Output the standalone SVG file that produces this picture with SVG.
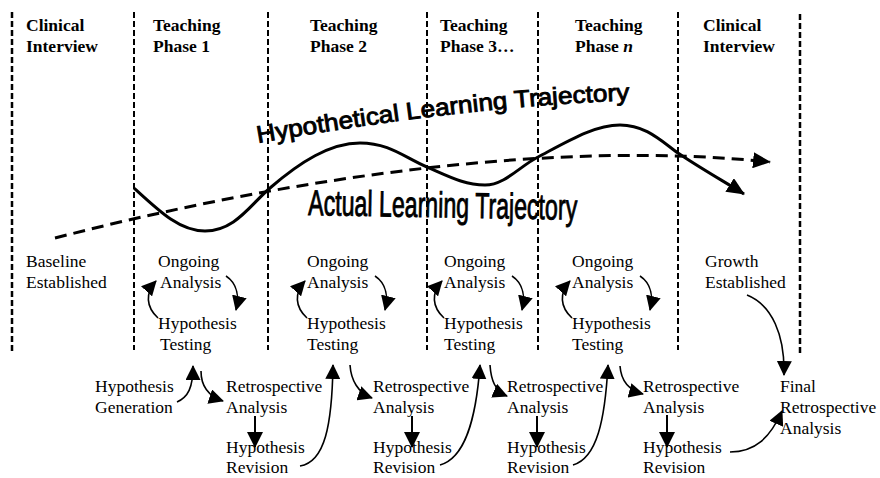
<svg xmlns="http://www.w3.org/2000/svg" width="880" height="478" viewBox="0 0 880 478">
<style>
.hd{font-family:"Liberation Serif","Times New Roman",serif;font-weight:bold;font-size:17.5px;fill:#000}
.tx{font-family:"Liberation Serif","Times New Roman",serif;font-size:17.5px;fill:#000}
.tt{font-family:"Liberation Sans",Arial,sans-serif;fill:#000;stroke:#000;stroke-width:0.9}
.vl{stroke:#000;stroke-width:2;stroke-dasharray:6 3;fill:none}
.c{stroke:#000;stroke-width:1.6;fill:none;marker-end:url(#ah)}
.cb{stroke:#000;stroke-width:2;fill:none;marker-end:url(#ahB)}
</style>
<defs>
<marker id="ah" markerUnits="userSpaceOnUse" viewBox="0 0 15 15" refX="14" refY="7.5" markerWidth="15" markerHeight="15" orient="auto">
<path d="M0,0 L15,7.5 L0,15 z" fill="#000"/>
</marker>
<marker id="ahB" markerUnits="userSpaceOnUse" viewBox="0 0 16 16" refX="15" refY="8" markerWidth="16" markerHeight="16" orient="auto">
<path d="M0,0 L16,8 L0,16 z" fill="#000"/>
</marker>
<marker id="ahL" markerUnits="userSpaceOnUse" viewBox="0 0 18 16" refX="17" refY="8" markerWidth="18" markerHeight="16" orient="auto">
<path d="M0,0 L18,8 L0,16 z" fill="#000"/>
</marker>
<path id="hltPath" d="M258,143 Q473,105 640,100"/>
</defs>
<rect width="880" height="478" fill="#fff"/>

<g id="dividers">
<line class="vl" x1="12" y1="12" x2="12" y2="351" style="stroke-width:2.5"/>
<line class="vl" x1="134" y1="12" x2="134" y2="350"/>
<line class="vl" x1="268" y1="12" x2="268" y2="350"/>
<line class="vl" x1="427" y1="12" x2="427" y2="350"/>
<line class="vl" x1="538" y1="12" x2="538" y2="350"/>
<line class="vl" x1="678" y1="12" x2="678" y2="350"/>
<line class="vl" x1="800" y1="14" x2="800" y2="354" style="stroke-width:2.5"/>
</g>

<g id="headers">
<g id="h-clinical1"><text class="hd" x="26" y="31">Clinical</text><text class="hd" x="26" y="52">Interview</text></g>
<g id="h-phase1"><text class="hd" x="153" y="31">Teaching</text><text class="hd" x="153" y="52">Phase 1</text></g>
<g id="h-phase2"><text class="hd" x="310" y="31">Teaching</text><text class="hd" x="310" y="52">Phase 2</text></g>
<g id="h-phase3"><text class="hd" x="440" y="31">Teaching</text><text class="hd" x="440" y="52">Phase 3…</text></g>
<g id="h-phasen"><text class="hd" x="575" y="31">Teaching</text><text class="hd" x="575" y="52">Phase <tspan font-style="italic">n</tspan></text></g>
<g id="h-clinical2"><text class="hd" x="703" y="31">Clinical</text><text class="hd" x="703" y="52">Interview</text></g>
</g>

<g id="trajectories">
<path d="M55,238 C300,175 560,140 770,162" fill="none" stroke="#000" stroke-width="3" stroke-dasharray="12 7" marker-end="url(#ahL)"/>
<path d="M134,188 C160,212 180,231 205,231 C235,231 250,205 270,188 C300,162 330,143 360,143 C390,143 405,158 427,167 C450,177 465,185 485,185 C505,185 520,166 538,157 C570,140 595,125 620,125 C645,125 660,140 678,153 C700,168 725,182 744,194" fill="none" stroke="#000" stroke-width="3" marker-end="url(#ahL)"/>
</g>

<g id="hlt-label"><text class="tt" font-size="24"><textPath href="#hltPath" textLength="374" lengthAdjust="spacingAndGlyphs">Hypothetical Learning Trajectory</textPath></text></g>
<g id="alt-label"><text class="tt" x="308" y="215" font-size="36" textLength="269" lengthAdjust="spacingAndGlyphs" transform="rotate(1,308,215)">Actual Learning Trajectory</text></g>

<g id="baseline"><text class="tx" x="26" y="267">Baseline</text><text class="tx" x="26" y="288">Established</text></g>
<g id="growth"><text class="tx" x="705" y="267">Growth</text><text class="tx" x="705" y="288">Established</text></g>

<g id="cycle1">
<text class="tx" x="158" y="267">Ongoing</text><text class="tx" x="160" y="288">Analysis</text>
<text class="tx" x="158" y="329">Hypothesis</text><text class="tx" x="160" y="350">Testing</text>
</g>
<g id="cycle2">
<text class="tx" x="307" y="267">Ongoing</text><text class="tx" x="307" y="288">Analysis</text>
<text class="tx" x="307" y="329">Hypothesis</text><text class="tx" x="307" y="350">Testing</text>
</g>
<g id="cycle3">
<text class="tx" x="444" y="267">Ongoing</text><text class="tx" x="444" y="288">Analysis</text>
<text class="tx" x="444" y="329">Hypothesis</text><text class="tx" x="444" y="350">Testing</text>
</g>
<g id="cyclen">
<text class="tx" x="572" y="267">Ongoing</text><text class="tx" x="572" y="288">Analysis</text>
<text class="tx" x="572" y="329">Hypothesis</text><text class="tx" x="572" y="350">Testing</text>
</g>

<g id="generation"><text class="tx" x="95" y="392">Hypothesis</text><text class="tx" x="95" y="413">Generation</text></g>

<g id="retro1"><text class="tx" x="226" y="392">Retrospective</text><text class="tx" x="226" y="413">Analysis</text></g>
<g id="revision1"><text class="tx" x="226" y="453">Hypothesis</text><text class="tx" x="226" y="473">Revision</text></g>
<g id="retro2"><text class="tx" x="373" y="392">Retrospective</text><text class="tx" x="373" y="413">Analysis</text></g>
<g id="revision2"><text class="tx" x="373" y="453">Hypothesis</text><text class="tx" x="373" y="473">Revision</text></g>
<g id="retro3"><text class="tx" x="507" y="392">Retrospective</text><text class="tx" x="507" y="413">Analysis</text></g>
<g id="revision3"><text class="tx" x="507" y="453">Hypothesis</text><text class="tx" x="507" y="473">Revision</text></g>
<g id="retron"><text class="tx" x="643" y="392">Retrospective</text><text class="tx" x="643" y="413">Analysis</text></g>
<g id="revisionn"><text class="tx" x="643" y="453">Hypothesis</text><text class="tx" x="643" y="473">Revision</text></g>
<g id="final"><text class="tx" x="780" y="392">Final</text><text class="tx" x="780" y="413">Retrospective</text><text class="tx" x="780" y="434">Analysis</text></g>

<g id="connectors">
<g id="loops">
<g transform="translate(0,0)">
<path class="c" d="M226,276 C238,284 239,298 236,310"/>
<path class="c" d="M158,318 C146,307 145,293 156,281"/>
</g>
<g transform="translate(149,0)">
<path class="c" d="M226,276 C238,284 239,298 236,310"/>
<path class="c" d="M158,318 C146,307 145,293 156,281"/>
</g>
<g transform="translate(286,0)">
<path class="c" d="M226,276 C238,284 239,298 236,310"/>
<path class="c" d="M158,318 C146,307 145,293 156,281"/>
</g>
<g transform="translate(414,0)">
<path class="c" d="M226,276 C238,284 239,298 236,310"/>
<path class="c" d="M158,318 C146,307 145,293 156,281"/>
</g>
</g>
<path class="c" d="M177,402 C188,397 193,388 193,366"/>
<path class="c" d="M201,371 C201,385 208,396 223,401"/>
<path class="cb" d="M255,416 L255,447"/>
<path class="c" d="M300,466 C325,462 332,425 333,365"/>
<path class="c" d="M350,365 C351,380 358,393 372,398"/>
<path class="cb" d="M412,416 L412,447"/>
<path class="c" d="M440,465 C465,458 476,420 480,365"/>
<path class="c" d="M490,365 C491,380 495,391 507,396"/>
<path class="cb" d="M537,416 L537,447"/>
<path class="c" d="M573,465 C597,458 605,420 608,365"/>
<path class="c" d="M620,366 C621,380 628,390 643,394"/>
<path class="cb" d="M667,415 L667,447"/>
<path class="c" d="M730,452 C755,452 770,438 782,411"/>
<path class="c" d="M747,295 C772,305 785,335 784,375"/>
</g>
</svg>
